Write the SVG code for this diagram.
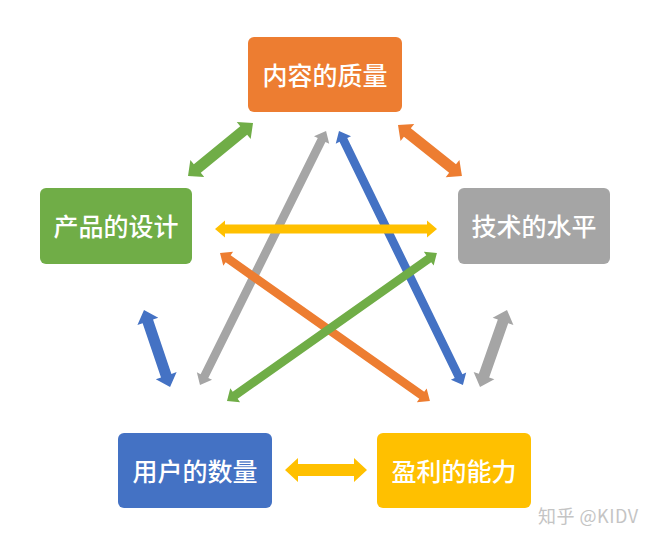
<svg xmlns="http://www.w3.org/2000/svg" width="660" height="543" viewBox="0 0 660 543">
<style>
.lbl{font-family:"Noto Sans CJK SC","Noto Sans",sans-serif;font-size:25px;font-weight:500;fill:#fff;text-anchor:middle;dominant-baseline:central}
.wm{font-family:"Noto Sans CJK SC","Noto Sans",sans-serif;font-size:18px;fill:#c4c4c4;letter-spacing:0.5px}
</style>
<rect width="660" height="543" fill="#fff"/>
<g id="connectors">
<g transform="translate(188,176) rotate(-39.2)"><polygon fill="#70AD47" points="0,0 12,-11 12,-5.5 71.9,-5.5 71.9,-11 83.9,0 71.9,11 71.9,5.5 12,5.5 12,11"/></g>
<g transform="translate(398,125) rotate(38.6)"><polygon fill="#ED7D31" points="0,0 12,-11 12,-5.5 69.8,-5.5 69.8,-11 81.8,0 69.8,11 69.8,5.5 12,5.5 12,11"/></g>
<g transform="translate(200,385) rotate(-63.6)"><polygon fill="#A5A5A5" points="0,0 10,-8.5 10,-4.3 273.5,-4.3 273.5,-8.5 283.5,0 273.5,8.5 273.5,4.3 10,4.3 10,8.5"/></g>
<g transform="translate(339,131) rotate(64)"><polygon fill="#4472C4" points="0,0 10,-8.5 10,-4.3 272.7,-4.3 272.7,-8.5 282.7,0 272.7,8.5 272.7,4.3 10,4.3 10,8.5"/></g>
<g transform="translate(215,229) rotate(0)"><polygon fill="#FFC000" points="0,0 10,-8.5 10,-4.5 212,-4.5 212,-8.5 222,0 212,8.5 212,4.5 10,4.5 10,8.5"/></g>
<g transform="translate(220,253) rotate(35.2)"><polygon fill="#ED7D31" points="0,0 10,-8.5 10,-4.3 246.9,-4.3 246.9,-8.5 256.9,0 246.9,8.5 246.9,4.3 10,4.3 10,8.5"/></g>
<g transform="translate(227,401) rotate(-35.2)"><polygon fill="#70AD47" points="0,0 10,-8.5 10,-4.3 246.9,-4.3 246.9,-8.5 256.9,0 246.9,8.5 246.9,4.3 10,4.3 10,8.5"/></g>
<g transform="translate(144,310) rotate(71.3)"><polygon fill="#4472C4" points="0,0 12,-11 12,-5.5 69.3,-5.5 69.3,-11 81.3,0 69.3,11 69.3,5.5 12,5.5 12,11"/></g>
<g transform="translate(507,310) rotate(109.3)"><polygon fill="#A5A5A5" points="0,0 12,-11 12,-5.5 69.6,-5.5 69.6,-11 81.6,0 69.6,11 69.6,5.5 12,5.5 12,11"/></g>
<g transform="translate(285,470) rotate(0)"><polygon fill="#FFC000" points="0,0 13,-12 13,-6 69,-6 69,-12 82,0 69,12 69,6 13,6 13,12"/></g>
</g>
<g id="n-content"><rect x="248" y="37" width="154" height="75" rx="6" fill="#ED7D31"/><text class="lbl" x="325" y="74">内容的质量</text></g>
<g id="n-product"><rect x="40" y="188" width="152" height="76" rx="6" fill="#70AD47"/><text class="lbl" x="116" y="225">产品的设计</text></g>
<g id="n-tech"><rect x="458" y="188" width="152" height="76" rx="6" fill="#A5A5A5"/><text class="lbl" x="534" y="225">技术的水平</text></g>
<g id="n-users"><rect x="118" y="433" width="154" height="75" rx="6" fill="#4472C4"/><text class="lbl" x="195" y="470">用户的数量</text></g>
<g id="n-profit"><rect x="377" y="433" width="154" height="75" rx="6" fill="#FFC000"/><text class="lbl" x="454" y="470">盈利的能力</text></g>
<text class="wm" x="538" y="523">知乎 @KIDV</text>
</svg>
